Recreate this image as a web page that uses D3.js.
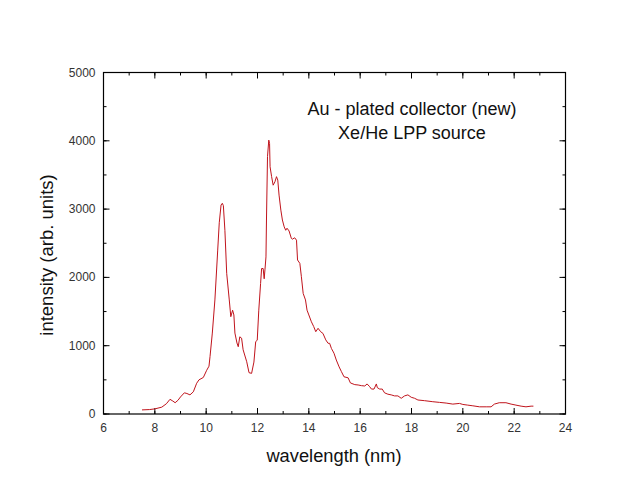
<!DOCTYPE html>
<html>
<head>
<meta charset="utf-8">
<script src="https://cdn.jsdelivr.net/npm/d3@7"></script>
<style>
  body { margin: 0; background: #fff; }
  text { font-family: Arial, "Liberation Sans", sans-serif; }
</style>
</head>
<body>
<svg id="chart" width="642" height="504"></svg>
<script>
// spectrum: wavelength (nm) and intensity (arb. units)
const wavelength = [7.5, 7.8, 8.0, 8.27, 8.45, 8.59, 8.7, 8.79, 8.9, 9.0, 9.15, 9.25, 9.37, 9.5, 9.63, 9.72, 9.89, 10.02, 10.11,
  10.15, 10.24, 10.34, 10.45, 10.51, 10.58, 10.63, 10.67, 10.73, 10.8, 10.9, 10.96, 11.03, 11.08, 11.12, 11.2, 11.25,
  11.31, 11.38, 11.44, 11.58, 11.67, 11.77, 11.86, 11.93, 11.99, 12.05, 12.12, 12.16, 12.22, 12.26, 12.29, 12.33, 12.35,
  12.39, 12.44, 12.47, 12.49, 12.55, 12.61, 12.68, 12.74, 12.79, 12.84, 12.91, 12.97, 13.04, 13.1, 13.15, 13.23, 13.32,
  13.36, 13.45, 13.52, 13.56, 13.65, 13.71, 13.78, 13.87, 13.93, 14.0, 14.1, 14.19, 14.27, 14.36, 14.46, 14.55, 14.66,
  14.75, 14.81, 14.88, 14.98, 15.07, 15.18, 15.27, 15.37, 15.53, 15.62, 15.79, 15.92, 16.05, 16.18, 16.27, 16.37, 16.44,
  16.54, 16.63, 16.67, 16.76, 16.86, 16.95, 17.08, 17.21, 17.34, 17.47, 17.6, 17.73, 17.86, 17.99, 18.12, 18.25, 18.51,
  18.83, 19.09, 19.35, 19.61, 19.87, 20.0, 20.19, 20.39, 20.65, 20.91, 21.1, 21.23, 21.42, 21.68, 21.88, 22.07, 22.27,
  22.46, 22.66, 22.75];
const intensity = [60, 65, 75, 100, 150, 215, 190, 165, 200, 250, 310, 300, 280, 325, 450, 500, 535, 640, 700,
  840, 1185, 1670, 2400, 2800, 3060, 3085, 3050, 2690, 2060, 1670, 1425, 1520, 1450, 1185, 1040, 985,
  1130, 1110, 940, 765, 605, 595, 760, 1060, 1080, 1520, 1910, 2130, 2130, 1980, 2110, 2300, 2840,
  3770, 4010, 3960, 3620, 3475, 3350, 3400, 3475, 3425, 3205, 2985, 2840, 2740, 2690, 2720, 2680, 2570,
  2560, 2580, 2545, 2255, 2205, 2010, 1765, 1670, 1520, 1450, 1350, 1280, 1205, 1255, 1205, 1180, 1085,
  1035, 1035, 960, 890, 790, 690, 620, 545, 530, 455, 430, 425, 415, 410, 440, 400, 365,
  365, 440, 385, 365, 365, 310, 290, 280, 265, 265, 230, 265, 280, 245, 230, 205, 195,
  180, 170, 160, 145, 155, 140, 130, 120, 105, 105, 105, 145, 165, 165, 145, 130, 115,
  105, 115, 115];

const xTicks = [6, 8, 10, 12, 14, 16, 18, 20, 22, 24];
const yTicks = [0, 1000, 2000, 3000, 4000, 5000];
const titleLines = ["Au - plated collector (new)", "Xe/He LPP source"];

const svg = d3.select("#chart");
const plot = { left: 103.5, right: 565.5, top: 72.5, bottom: 414 };

const x = d3.scaleLinear().domain([6, 24]).range([plot.left, plot.right]);
const y = d3.scaleLinear().domain([0, 5000]).range([plot.bottom, plot.top]);

const minorX = d3.range(6, 24.01, 1);
const minorY = d3.range(0, 5001, 500);

// inward ticks on all four sides
function ticks(g, axis, scale, vals, len) {
  g.selectAll(null).data(vals).enter().append("line")
    .attr("x1", d => axis === "x" ? scale(d) : 0)
    .attr("x2", d => axis === "x" ? scale(d) : len)
    .attr("y1", d => axis === "y" ? scale(d) : 0)
    .attr("y2", d => axis === "y" ? scale(d) : len)
    .attr("stroke", "#000").attr("stroke-width", 1);
}

const gb = svg.append("g").attr("transform", `translate(0,${plot.bottom})`);
ticks(gb, "x", x, minorX, -3);
ticks(gb, "x", x, xTicks, -6);
const gt = svg.append("g").attr("transform", `translate(0,${plot.top})`);
ticks(gt, "x", x, minorX, 3);
ticks(gt, "x", x, xTicks, 6);
const gl = svg.append("g").attr("transform", `translate(${plot.left},0)`);
ticks(gl, "y", y, minorY, 3);
ticks(gl, "y", y, yTicks, 6);
const gr = svg.append("g").attr("transform", `translate(${plot.right},0)`);
ticks(gr, "y", y, minorY, -3);
ticks(gr, "y", y, yTicks, -6);

svg.append("rect")
  .attr("x", plot.left).attr("y", plot.top)
  .attr("width", plot.right - plot.left).attr("height", plot.bottom - plot.top)
  .attr("fill", "none").attr("stroke", "#000").attr("stroke-width", 1.2);

// tick labels
svg.append("g").selectAll("text").data(xTicks).enter().append("text")
  .attr("x", d => x(d)).attr("y", plot.bottom + 18)
  .attr("text-anchor", "middle").attr("font-size", 12).attr("fill", "#333")
  .text(d => d);
svg.append("g").selectAll("text").data(yTicks).enter().append("text")
  .attr("x", plot.left - 8).attr("y", d => y(d) + 4)
  .attr("text-anchor", "end").attr("font-size", 12).attr("fill", "#333")
  .text(d => d);

// axis titles
svg.append("text")
  .attr("x", 334).attr("y", 462)
  .attr("text-anchor", "middle").attr("font-size", 18.3).attr("fill", "#111")
  .text("wavelength (nm)");
svg.append("text")
  .attr("transform", "translate(53,255) rotate(-90)")
  .attr("text-anchor", "middle").attr("font-size", 18.5).attr("fill", "#111")
  .text("intensity (arb. units)");

// annotation
svg.append("g").selectAll("text").data(titleLines).enter().append("text")
  .attr("x", 412).attr("y", (d, i) => 115 + i * 24)
  .attr("text-anchor", "middle").attr("font-size", 18).attr("fill", "#111")
  .text(d => d);

const line = d3.line()
  .x((d, i) => x(wavelength[i]))
  .y(d => y(d));

svg.append("path")
  .datum(intensity)
  .attr("d", line)
  .attr("fill", "none")
  .attr("stroke", "#c0141c")
  .attr("stroke-width", 1);
</script>
</body>
</html>
